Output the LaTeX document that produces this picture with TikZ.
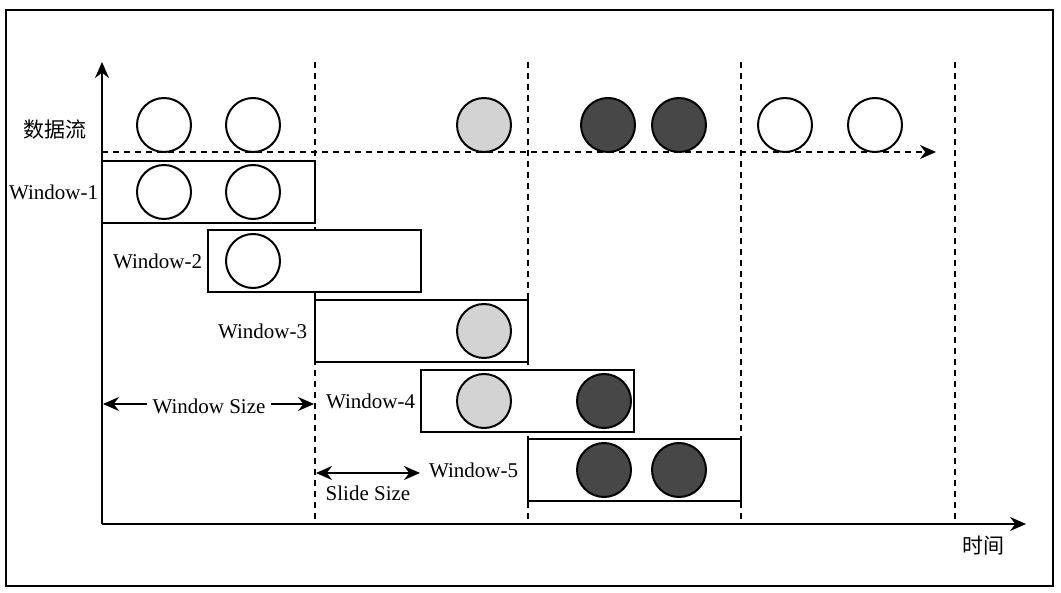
\documentclass[tikz,border=0pt]{standalone}
\usepackage{fontspec}
\setmainfont{Liberation Serif}
\newfontfamily\cjk{Noto Sans CJK SC}
\usetikzlibrary{arrows.meta}
\definecolor{evlight}{HTML}{D3D3D3}
\definecolor{evdark}{HTML}{474747}
\begin{document}
\begin{tikzpicture}[x=0.5pt,y=-0.5pt,line width=1pt,font=\fontsize{10.5pt}{12pt}\selectfont]

    \tikzset{evt/.style={draw,shape=circle,minimum size=27pt,inner sep=0pt,fill=white},
             evtl/.style={evt,fill=evlight},
             evtd/.style={evt,fill=evdark},
             winbox/.style={draw,shape=rectangle,minimum width=106.5pt,minimum height=31pt,inner sep=0pt,fill=white},
             grid/.style={dash pattern=on 3pt off 2.5pt},
             arr/.style={-{Stealth[length=8pt,width=7pt]}},
             darr/.style={{Stealth[length=8pt,width=7pt]}-{Stealth[length=8pt,width=7pt]}}}
    \useasboundingbox (0,0) rectangle (1061,593);
    \draw (6,10) rectangle (1053,586);

    % axes
    \coordinate (O) at (102,524);
    \coordinate (ytop) at (102,62);
    \coordinate (xend) at (1026,524);
    \foreach \x/\n in {315/a,528/b,741/c,955/d} {
        \coordinate (g\n top) at (\x,62);
        \coordinate (g\n bot) at (\x,524);
        \draw[grid] (g\n top) -- (g\n bot);
    }
    \draw[arr] (O) -- (ytop);
    \draw[arr] (O) -- (xend);
    \node (time) at (983,546) {\cjk 时间};

    % stream
    \coordinate (s0) at (102,152);
    \coordinate (s1) at (936,152);
    \draw[grid,arr] (s0) -- (s1);
    \node (stream) at (55,130) {\cjk 数据流};
    \node[evt] (e1) at (164,125) {};
    \node[evt] (e2) at (253,125) {};
    \node[evtl] (e3) at (484,125) {};
    \node[evtd] (e4) at (608,125) {};
    \node[evtd] (e5) at (679,125) {};
    \node[evt] (e6) at (785,125) {};
    \node[evt] (e7) at (875,125) {};

    % windows
    \node[winbox] (w1) at (208.5,192) {};
    \node[winbox] (w2) at (314.5,261) {};
    \node[winbox] (w3) at (421.5,331) {};
    \node[winbox] (w4) at (527.5,401) {};
    \node[winbox] (w5) at (634.5,470) {};
    \node[left,inner sep=1pt] at (w1.west) {Window-1};
    \node[left,inner sep=2pt] at (w2.west) {Window-2};
    \node[left,inner sep=3pt] at (w3.west) {Window-3};
    \node[left,inner sep=2pt] at (w4.west) {Window-4};
    \node[left,inner sep=4pt] at (w5.west) {Window-5};

    \node[evt] (w1a) at (164,192) {};
    \node[evt] (w1b) at (253,192) {};
    \node[evt] (w2a) at (253,261) {};
    \node[evtl] (w3a) at (484,331) {};
    \node[evtl] (w4a) at (484,401) {};
    \node[evtd] (w4b) at (604,401) {};
    \node[evtd] (w5a) at (604,470) {};
    \node[evtd] (w5b) at (679,470) {};

    % sizes
    \node[inner sep=2.5pt] (wsize) at (209,406) {Window Size};
    \coordinate (wsL) at (103,404);
    \coordinate (wsR) at (314,404);
    \draw[arr] (wsize.west |- wsL) -- (wsL);
    \draw[arr] (wsize.east |- wsR) -- (wsR);
    \coordinate (ssL) at (316,473);
    \coordinate (ssR) at (420,473);
    \draw[darr] (ssL) -- (ssR);
    \node (ssize) at (368,493) {Slide Size};

\end{tikzpicture}
\end{document}
